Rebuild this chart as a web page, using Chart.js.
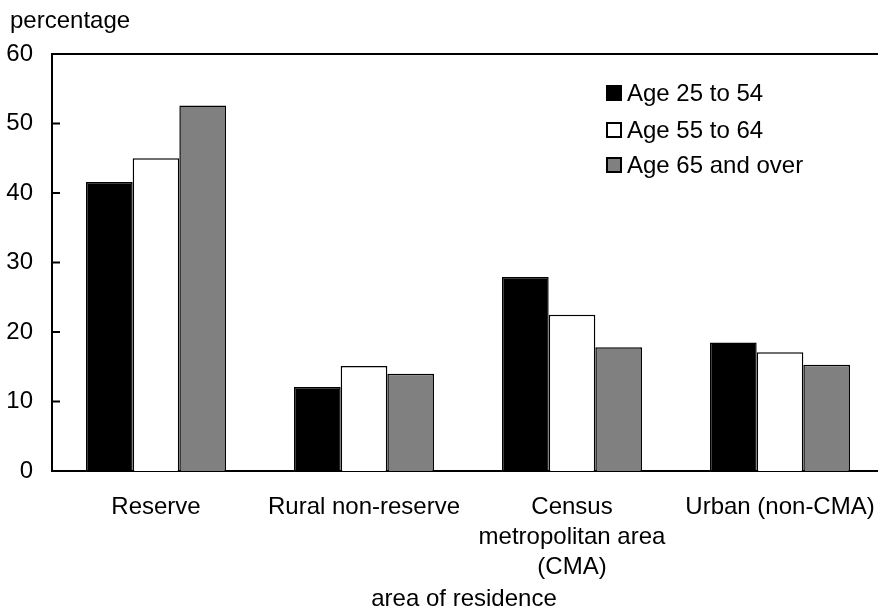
<!DOCTYPE html>
<html>
<head>
<meta charset="utf-8">
<script src="https://cdn.jsdelivr.net/npm/chart.js@4.4.1/dist/chart.umd.min.js"></script>
<style>
html,body{margin:0;padding:0;background:#fff;overflow:hidden;}
#wrap{width:878px;height:613px;position:relative;overflow:hidden;}
</style>
</head>
<body>
<div id="wrap"><canvas id="c" width="886" height="613"></canvas></div>
<script>
const categories = ["Reserve", "Rural non-reserve", ["Census", "metropolitan area", "(CMA)"], "Urban (non-CMA)"];
const age25to54 = [41.6, 12.1, 27.9, 18.5];
const age55to64 = [45.0, 15.1, 22.5, 17.1];
const age65plus = [52.6, 14.0, 17.8, 15.3];
const seriesLabels = ["Age 25 to 54", "Age 55 to 64", "Age 65 and over"];
const yTicks = [0, 10, 20, 30, 40, 50, 60];
const yTitle = "percentage";
const xTitle = "area of residence";

const FONT = "'Liberation Sans', Arial, sans-serif";
const FS = 24;

const decor = {
  id: 'decor',
  afterDraw(chart) {
    const ctx = chart.ctx;
    const area = chart.chartArea;
    const y = chart.scales.y;
    ctx.save();
    ctx.strokeStyle = '#000';
    ctx.lineWidth = 2;
    ctx.beginPath();
    ctx.moveTo(area.left - 1, area.top);
    ctx.lineTo(area.right, area.top);
    ctx.stroke();
    yTicks.forEach(v => {
      const py = y.getPixelForValue(v);
      ctx.beginPath();
      ctx.moveTo(area.left, py);
      ctx.lineTo(area.left + 8, py);
      ctx.stroke();
    });
    ctx.fillStyle = '#000';
    ctx.font = FS + 'px ' + FONT;
    ctx.textAlign = 'left';
    ctx.textBaseline = 'middle';
    ctx.fillText(yTitle, 10, 21);
    ctx.textAlign = 'center';
    ctx.fillText(xTitle, 464, 599);
    ctx.textAlign = 'left';
    const ds = chart.data.datasets;
    const lx = 606, rows = [93, 130, 165], sq = 16;
    ds.forEach((d, i) => {
      const cy = rows[i];
      ctx.fillStyle = d.backgroundColor;
      ctx.fillRect(lx, cy - sq / 2, sq, sq);
      ctx.lineWidth = 2;
      ctx.strokeStyle = '#000';
      ctx.strokeRect(lx + 1, cy - sq / 2 + 1, sq - 2, sq - 2);
      ctx.fillStyle = '#000';
      ctx.fillText(d.label, 627, cy + 1);
    });
    ctx.restore();
  }
};

new Chart(document.getElementById('c'), {
  type: 'bar',
  data: {
    labels: categories,
    datasets: [
      { label: seriesLabels[0], data: age25to54, backgroundColor: '#000000', borderColor: '#000', borderWidth: 1.5 },
      { label: seriesLabels[1], data: age55to64, backgroundColor: '#ffffff', borderColor: '#000', borderWidth: 1.5 },
      { label: seriesLabels[2], data: age65plus, backgroundColor: '#808080', borderColor: '#000', borderWidth: 1.5 }
    ]
  },
  options: {
    responsive: false,
    animation: false,
    devicePixelRatio: 1,
    layout: { padding: { left: 0, right: 2, top: 54, bottom: 0 } },
    datasets: { bar: { categoryPercentage: 0.673, barPercentage: 1.0 } },
    plugins: { legend: { display: false }, tooltip: { enabled: false } },
    scales: {
      x: {
        grid: { display: false, drawTicks: false },
        border: { display: true, color: '#000', width: 2 },
        ticks: { color: '#000', font: { family: FONT, size: FS, lineHeight: 1.25 }, padding: 21, maxRotation: 0, autoSkip: false },
        title: { display: false },
        afterFit(s) { s.height = 613 - 471; s.paddingLeft = 0; s.paddingRight = 0; }
      },
      y: {
        min: 0, max: 60,
        afterBuildTicks(s) { s.ticks = yTicks.map(v => ({ value: v })); },
        grid: { display: false, drawTicks: false },
        border: { display: true, color: '#000', width: 2 },
        ticks: { color: '#000', font: { family: FONT, size: FS }, padding: 19 },
        afterFit(s) { s.width = 52; }
      }
    }
  },
  plugins: [decor]
});
</script>
</body>
</html>
